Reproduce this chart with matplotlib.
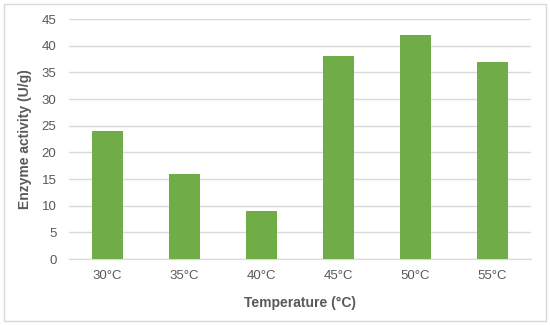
import matplotlib.pyplot as plt
from matplotlib.patches import Rectangle

temps = ["30°C", "35°C", "40°C", "45°C", "50°C", "55°C"]
activity = [24, 16, 9, 38, 42, 37]

plt.rcParams['font.family'] = ['Liberation Sans', 'DejaVu Sans']
text_color = "#595959"

fig = plt.figure(figsize=(5.5, 3.25), dpi=100)
ax = fig.add_axes([69 / 550, 1 - 259 / 325, 462 / 550, 240 / 325])

x = range(len(temps))
ax.bar(x, activity, width=0.39, color="#70AD47", zorder=3)
ax.set_xlim(-0.5, len(temps) - 0.5)
ax.set_ylim(0, 45)
ax.set_yticks(range(0, 46, 5))
ax.set_xticks(list(x))
ax.set_xticklabels(temps)

ax.grid(axis="y", color="#D9D9D9", linewidth=1, zorder=0)
for s in ["top", "right", "left"]:
    ax.spines[s].set_visible(False)
ax.spines["bottom"].set_color("#D9D9D9")
ax.tick_params(axis="both", length=0, labelsize=9.5, colors=text_color)
ax.tick_params(axis="y", pad=9)
ax.tick_params(axis="x", pad=8)

ax.set_xlabel("Temperature (°C)", fontsize=10, fontweight="bold", color=text_color, labelpad=10)
ax.set_ylabel("Enzyme activity (U/g)", fontsize=10, fontweight="bold", color=text_color, labelpad=7)

fig.patches.append(Rectangle((4 / 550, 4 / 325), 542 / 550, 317 / 325, transform=fig.transFigure,
                             fill=False, edgecolor="#D9D9D9", linewidth=1))

fig.savefig("out.png", dpi=100)
